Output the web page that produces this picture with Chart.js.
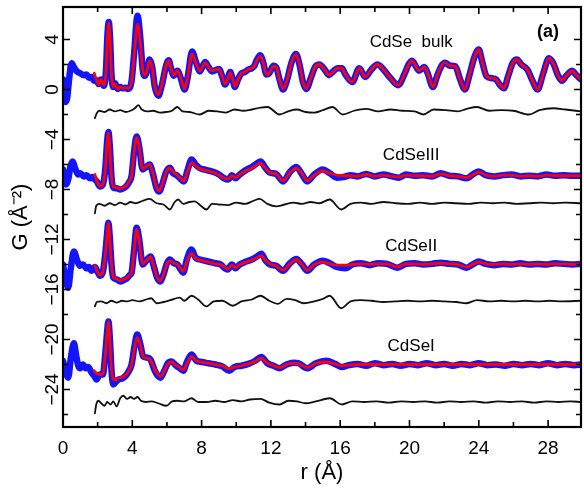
<!DOCTYPE html>
<html><head><meta charset="utf-8">
<script src="https://cdn.jsdelivr.net/npm/chart.js@4.4.0/dist/chart.umd.min.js"></script>
<style>html,body{margin:0;padding:0;background:#fff;}canvas{display:block;}</style>
</head><body>
<canvas id="c" width="584" height="488" style="width:584px;height:488px"></canvas>
<script>
// ---------- axis ticks ----------
const xTicks = [0, 4, 8, 12, 16, 20, 24, 28];
const xMinorTicks = [2, 6, 10, 14, 18, 22, 26];
const yTicks = [4, 0, -4, -8, -12, -16, -20, -24];
const yMinorTicks = [2, -2, -6, -10, -14, -18, -22, -26];
const xMin = 0, xMax = 29.9, yMin = -27, yMax = 6.6;

// ---------- CdSe bulk ----------
const bulkR = [0.0,0.08,0.15,0.25,0.35,0.5,0.62,0.8,1.0,1.2,
1.35,1.5,1.65,1.8,1.95,2.05,2.2,2.35,2.48,2.56,
2.64,2.72,2.8,2.9,3.0,3.15,3.3,3.45,3.6,3.75,
3.95,4.1,4.3,4.45,4.6,4.72,4.85,5.0,5.15,5.3,
5.5,5.7,5.95,6.1,6.25,6.4,6.6,6.8,7.02,7.2,
7.45,7.65,7.9,8.2,8.4,8.6,9.0,9.2,9.35,9.5,
9.65,9.78,9.92,10.1,10.3,10.5,10.7,10.9,11.05,11.2,
11.38,11.55,11.75,11.9,12.15,12.3,12.5,12.7,12.9,13.2,
13.45,13.65,13.85,14.05,14.3,14.55,14.8,15.1,15.35,15.6,
15.85,16.1,16.3,16.7,17.1,17.45,17.8,18.15,18.5,18.85,
19.35,19.7,19.95,20.15,20.55,20.85,21.05,21.35,21.6,21.85,
22.05,22.35,22.65,22.9,23.2,23.45,23.75,24.0,24.2,24.45,
24.75,25.0,25.2,25.45,25.7,25.95,26.2,26.45,26.8,27.1,
27.4,27.7,28.05,28.3,28.55,28.8,29.05,29.4,29.6,29.9];
const bulkData = [0.8,-0.3,-1.0,-0.6,0.8,2.1,1.8,1.45,1.3,1.15,
1.2,0.95,1.0,0.7,0.75,0.45,0.8,0.3,1.5,4.2,
5.4,4.0,1.2,0.2,0.5,0.05,0.2,0.1,0.15,0.05,
0.6,2.8,5.9,4.3,1.6,1.1,1.5,2.4,1.8,0.2,
-0.5,0.3,1.9,2.35,1.6,1.1,1.5,0.9,0.0,1.0,
3.05,2.3,1.45,2.2,1.8,1.45,1.65,1.0,0.4,0.8,
1.4,0.9,0.2,0.8,1.3,1.4,1.6,1.7,1.9,2.4,
2.75,2.2,1.2,1.3,1.9,1.8,0.8,0.0,0.6,2.2,
2.85,2.0,0.6,0.05,0.9,1.8,2.0,1.6,1.15,1.45,
1.7,1.7,1.2,0.6,1.7,1.0,1.6,2.0,1.6,1.0,
0.35,1.2,2.0,2.3,1.5,1.8,1.3,0.2,1.1,1.9,
2.15,1.9,1.85,0.9,0.0,1.1,2.6,3.2,2.2,1.05,
0.9,0.8,0.4,0.1,1.1,2.1,2.4,2.0,1.6,0.7,
0.0,1.2,2.5,2.1,1.2,0.7,1.1,1.5,1.2,0.8];
const bulkFit = [null,null,null,null,null,null,null,null,null,null,
null,null,null,1.3,0.7,0.4,0.8,0.35,1.4,4.0,
5.3,3.9,1.1,0.2,0.45,0.05,0.2,0.1,0.15,0.1,
0.6,2.6,5.2,3.9,1.6,1.15,1.5,2.3,1.75,0.25,
-0.4,0.35,1.9,2.3,1.6,1.15,1.5,0.9,0.05,1.0,
2.85,2.2,1.5,2.15,1.8,1.5,1.65,1.0,0.45,0.8,
1.35,0.9,0.25,0.8,1.3,1.4,1.6,1.7,1.9,2.35,
2.65,2.2,1.2,1.3,1.85,1.8,0.8,0.05,0.6,2.2,
2.8,2.0,0.6,0.1,0.9,1.8,2.0,1.6,1.15,1.45,
1.7,1.7,1.2,0.6,1.7,1.0,1.6,2.0,1.6,1.0,
0.35,1.2,2.0,2.3,1.5,1.8,1.3,0.2,1.1,1.9,
2.15,1.9,1.85,0.9,0.0,1.1,2.6,3.2,2.2,1.05,
0.9,0.8,0.4,0.1,1.1,2.1,2.4,2.0,1.6,0.7,
0.0,1.2,2.5,2.1,1.2,0.7,1.1,1.5,1.2,0.8];
const bulkDiffR = [1.84,1.95,2.1,2.4,2.7,3.0,3.3,3.6,3.9,4.15,
4.35,4.55,4.85,5.2,5.6,5.95,6.3,6.6,6.9,7.3,
7.9,8.4,8.9,9.4,9.9,10.4,10.9,11.4,11.8,12.5,
13.0,13.5,14.0,14.5,15.0,15.55,16.15,16.8,17.5,18.2,
18.9,19.6,20.3,20.8,21.4,22.1,22.8,23.3,23.9,24.6,
25.3,26.0,26.9,27.5,28.3,29.0,29.9];
const bulkDiffG = [-2.3,-1.9,-1.7,-1.8,-1.6,-1.75,-1.65,-1.8,-1.7,-1.5,
-1.25,-1.6,-1.75,-1.7,-1.85,-1.8,-1.7,-1.4,-1.75,-1.8,
-2.0,-1.7,-1.75,-1.85,-1.6,-1.7,-1.6,-1.45,-1.4,-2.0,
-1.75,-1.6,-1.8,-1.85,-1.65,-1.4,-2.0,-1.7,-1.55,-1.75,
-1.6,-1.7,-1.75,-2.0,-1.6,-1.65,-1.75,-1.55,-1.4,-1.7,
-1.65,-1.7,-2.0,-1.65,-1.5,-1.6,-1.75];

// ---------- CdSeIII ----------
const s3R = [0.0,0.08,0.17,0.3,0.42,0.56,0.7,0.88,1.0,1.2,
1.35,1.56,1.7,1.84,1.95,2.13,2.3,2.45,2.54,2.62,
2.7,2.8,2.9,3.1,3.3,3.5,3.65,3.82,3.96,4.1,
4.25,4.4,4.6,4.8,5.0,5.2,5.4,5.55,5.75,5.95,
6.17,6.35,6.55,6.75,6.97,7.2,7.42,7.65,7.9,8.18,
8.45,8.7,9.0,9.3,9.53,9.75,9.95,10.2,10.55,10.9,
11.15,11.41,11.65,11.93,12.3,12.7,13.1,13.47,13.8,14.1,
14.5,15.0,15.4,15.8,16.2,16.6,17.0,17.5,18.0,18.5,
19.0,19.4,19.8,20.3,20.8,21.3,21.8,22.3,22.8,23.3,
23.7,24.0,24.4,24.9,25.4,25.9,26.4,26.9,27.4,27.9,
28.4,28.9,29.4,29.9];
const s3Data = [-6.4,-7.2,-7.6,-7.2,-6.2,-5.75,-6.3,-6.8,-6.7,-6.95,
-6.85,-7.1,-7.0,-7.2,-7.35,-7.75,-7.6,-6.2,-4.3,-3.4,
-4.5,-7.0,-7.85,-7.9,-8.0,-7.9,-7.75,-7.4,-6.9,-5.0,
-3.75,-4.6,-6.4,-6.2,-6.0,-6.8,-7.9,-8.15,-7.5,-6.6,
-6.25,-6.7,-6.85,-7.1,-7.35,-6.4,-5.6,-6.0,-6.3,-6.4,
-6.5,-6.6,-6.8,-7.1,-7.2,-6.85,-7.1,-6.8,-6.45,-6.2,
-5.95,-5.75,-6.2,-6.65,-6.75,-7.35,-6.6,-6.2,-6.8,-7.35,
-6.8,-6.4,-6.7,-7.05,-7.0,-6.85,-6.95,-6.75,-6.95,-6.8,
-6.95,-7.05,-6.8,-6.9,-6.85,-6.95,-6.7,-6.9,-6.95,-7.1,
-6.75,-6.55,-6.85,-6.95,-6.85,-6.8,-6.95,-6.9,-6.95,-6.8,
-6.9,-6.85,-6.9,-6.9];
const s3Fit = [null,null,null,null,null,null,null,null,null,null,
null,null,null,-6.8,-7.3,-7.75,-7.6,-6.3,-4.4,-3.5,
-4.6,-7.0,-7.8,-7.85,-7.95,-7.85,-7.7,-7.35,-6.9,-5.1,
-3.85,-4.6,-6.35,-6.15,-6.0,-6.75,-7.85,-8.1,-7.5,-6.6,
-6.3,-6.6,-6.8,-7.05,-7.3,-6.5,-5.85,-6.1,-6.35,-6.45,
-6.55,-6.65,-6.85,-7.1,-7.15,-6.9,-7.05,-6.8,-6.5,-6.3,
-6.05,-5.9,-6.25,-6.65,-6.75,-7.3,-6.65,-6.3,-6.75,-7.3,
-6.85,-6.5,-6.7,-6.85,-6.9,-6.9,-6.95,-6.8,-6.95,-6.85,
-6.95,-7.0,-6.85,-6.9,-6.9,-6.95,-6.75,-6.9,-6.95,-7.05,
-6.8,-6.6,-6.85,-6.95,-6.85,-6.85,-6.95,-6.9,-6.95,-6.85,
-6.9,-6.9,-6.9,-6.9];
const s3DiffR = [1.84,1.92,2.1,2.4,2.7,3.0,3.3,3.6,3.9,4.2,
4.6,5.0,5.4,5.8,6.17,6.45,6.65,6.95,7.3,7.6,
7.95,8.28,8.6,9.0,9.5,10.0,10.5,11.0,11.35,11.8,
12.3,12.8,13.3,13.8,14.3,14.8,15.39,16.06,16.6,17.2,
17.8,18.5,19.2,19.9,20.6,21.3,22.0,22.7,23.4,24.1,
24.8,25.5,26.2,26.9,27.6,28.3,29.0,29.9];
const s3DiffG = [-9.9,-9.3,-9.15,-9.3,-9.1,-9.25,-9.05,-9.2,-9.0,-9.1,
-8.9,-8.75,-9.1,-9.2,-9.6,-9.0,-8.8,-9.15,-9.0,-8.95,
-9.3,-9.6,-9.15,-9.2,-9.25,-9.05,-9.15,-8.9,-8.75,-9.15,
-9.35,-9.2,-9.05,-9.15,-9.0,-9.1,-8.8,-9.6,-9.15,-9.05,
-9.15,-9.0,-9.1,-9.15,-9.05,-9.15,-9.05,-9.1,-9.15,-9.05,
-9.1,-9.05,-9.15,-9.1,-9.05,-9.1,-9.05,-9.1];

// ---------- CdSeII ----------
const s2R = [0.0,0.1,0.3,0.45,0.63,0.8,0.98,1.15,1.35,1.5,
1.65,1.84,2.0,2.13,2.3,2.45,2.54,2.62,2.7,2.8,
2.9,3.1,3.3,3.5,3.7,3.85,3.96,4.1,4.25,4.4,
4.6,4.8,5.05,5.25,5.45,5.6,5.8,6.0,6.17,6.4,
6.6,6.75,6.94,7.15,7.42,7.65,7.9,8.2,8.5,8.8,
9.1,9.3,9.5,9.75,9.95,10.2,10.5,10.9,11.15,11.45,
11.7,11.95,12.3,12.7,13.1,13.47,13.8,14.1,14.5,15.0,
15.4,15.8,16.3,16.7,17.2,17.7,18.2,18.7,19.3,19.8,
20.3,20.8,21.3,21.8,22.3,22.8,23.3,23.7,24.0,24.4,
24.9,25.4,25.9,26.4,26.9,27.4,27.9,28.4,28.9,29.4,
29.9];
const s2Data = [-14.0,-14.8,-15.85,-14.3,-12.95,-13.6,-14.1,-14.0,-14.3,-14.2,
-14.5,-14.2,-14.6,-14.9,-14.6,-13.0,-11.6,-10.65,-11.8,-14.0,
-15.05,-15.2,-15.35,-15.25,-15.1,-14.85,-14.65,-12.9,-11.05,-12.0,
-14.0,-13.7,-13.35,-14.2,-15.1,-15.35,-14.8,-13.9,-13.6,-13.9,
-14.0,-14.3,-14.65,-13.6,-12.8,-13.45,-13.6,-13.7,-13.8,-13.9,
-14.0,-14.25,-14.4,-14.0,-14.3,-14.0,-13.8,-13.6,-13.4,-13.15,
-13.7,-14.0,-14.1,-14.5,-13.9,-13.55,-14.0,-14.5,-14.0,-13.7,
-13.9,-14.2,-14.3,-14.0,-13.9,-14.05,-13.9,-13.95,-14.25,-13.95,
-13.9,-14.0,-13.95,-13.85,-13.95,-14.0,-14.25,-13.95,-13.75,-13.95,
-14.05,-13.95,-14.0,-13.9,-14.0,-13.95,-14.0,-13.9,-13.95,-14.0,
-13.95];
const s2Fit = [null,null,null,null,null,null,null,null,null,null,
null,-14.1,-14.6,-14.85,-14.6,-13.1,-11.7,-10.7,-11.9,-14.0,
-15.0,-15.15,-15.3,-15.2,-15.05,-14.85,-14.65,-13.0,-11.2,-12.1,
-13.95,-13.7,-13.4,-14.2,-15.05,-15.3,-14.8,-13.95,-13.7,-13.9,
-14.0,-14.25,-14.55,-13.75,-13.1,-13.5,-13.65,-13.75,-13.85,-13.95,
-14.0,-14.2,-14.35,-14.05,-14.25,-14.0,-13.85,-13.65,-13.5,-13.3,
-13.7,-13.95,-14.1,-14.45,-13.95,-13.6,-14.0,-14.45,-14.0,-13.8,
-13.95,-14.05,-14.05,-14.0,-13.95,-14.0,-13.95,-13.95,-14.2,-13.95,
-13.95,-14.0,-13.95,-13.9,-13.95,-14.0,-14.2,-13.95,-13.8,-13.95,
-14.0,-13.95,-14.0,-13.95,-14.0,-13.95,-14.0,-13.95,-13.95,-14.0,
-13.95];
const s2DiffR = [1.84,1.95,2.2,2.5,2.8,3.1,3.4,3.7,4.0,4.4,
4.8,5.1,5.4,5.8,6.2,6.74,7.0,7.42,7.8,8.28,
8.7,9.2,9.8,10.3,10.9,11.4,11.9,12.4,12.9,13.4,
13.9,14.5,15.0,15.39,16.06,16.6,17.2,17.8,18.5,19.2,
19.9,20.6,21.3,22.0,22.7,23.3,23.9,24.6,25.3,26.0,
26.7,27.4,28.1,28.8,29.9];
const s2DiffG = [-17.35,-17.0,-16.95,-17.1,-16.9,-17.05,-16.9,-16.95,-16.85,-16.95,
-16.8,-16.7,-17.1,-17.0,-16.85,-16.65,-16.9,-16.5,-16.8,-17.35,
-16.95,-16.9,-17.3,-16.95,-16.8,-16.5,-16.9,-17.15,-16.75,-16.85,
-17.1,-16.95,-16.75,-16.5,-17.5,-16.95,-16.85,-16.9,-17.0,-16.95,
-16.9,-16.95,-16.9,-16.95,-17.0,-17.1,-16.85,-16.95,-16.9,-16.95,
-16.9,-16.95,-16.9,-16.95,-16.9];

// ---------- CdSeI ----------
const s1R = [0.0,0.12,0.3,0.45,0.63,0.75,0.88,1.0,1.15,1.3,
1.45,1.65,1.8,1.94,2.13,2.3,2.45,2.54,2.62,2.7,
2.8,2.9,3.05,3.2,3.45,3.65,3.85,3.96,4.12,4.28,
4.45,4.63,4.85,5.05,5.3,5.5,5.63,5.85,6.05,6.26,
6.5,6.75,6.94,7.15,7.42,7.7,8.0,8.4,8.8,9.2,
9.6,9.9,10.3,10.7,11.1,11.45,11.8,12.15,12.5,12.9,
13.3,13.6,14.1,14.6,15.2,15.7,16.1,16.5,17.0,17.5,
18.0,18.5,19.0,19.5,20.0,20.5,21.0,21.5,22.0,22.5,
23.0,23.5,24.0,24.5,25.0,25.5,26.0,26.5,27.0,27.5,
28.0,28.5,29.0,29.5,29.9];
const s1Data = [-21.7,-22.4,-23.05,-21.5,-20.3,-21.2,-22.1,-22.3,-22.0,-22.3,
-22.2,-22.65,-22.9,-23.2,-22.8,-22.8,-21.0,-19.5,-18.55,-19.8,
-22.5,-23.6,-23.4,-23.2,-23.1,-22.85,-22.4,-22.0,-20.6,-19.6,
-20.3,-21.35,-21.45,-21.6,-22.5,-22.95,-23.05,-22.5,-21.9,-21.75,
-22.05,-22.3,-22.5,-21.8,-21.2,-21.7,-21.8,-21.9,-22.0,-22.15,
-22.5,-22.2,-22.1,-21.95,-21.7,-21.4,-21.9,-22.1,-22.3,-22.0,
-21.85,-21.9,-22.3,-21.9,-21.7,-21.95,-22.2,-22.05,-21.95,-22.1,
-21.9,-22.05,-21.95,-22.1,-21.95,-22.05,-21.9,-22.05,-21.95,-22.1,
-21.95,-22.05,-21.9,-22.05,-22.0,-22.1,-21.95,-22.05,-21.95,-22.05,
-21.9,-22.05,-21.95,-22.05,-22.0];
const s1Fit = [null,null,null,null,null,null,null,null,null,null,
null,null,-22.5,-22.7,-22.8,-22.75,-21.1,-19.6,-18.6,-19.9,
-22.4,-23.2,-23.2,-23.1,-23.0,-22.8,-22.4,-22.0,-20.8,-19.85,
-20.4,-21.35,-21.5,-21.65,-22.4,-22.85,-22.95,-22.5,-21.95,-21.8,
-22.05,-22.25,-22.45,-21.9,-21.35,-21.7,-21.8,-21.9,-22.0,-22.1,
-22.35,-22.2,-22.1,-21.95,-21.75,-21.5,-21.9,-22.1,-22.25,-22.0,
-21.9,-21.95,-22.25,-21.9,-21.8,-21.95,-22.1,-22.05,-22.0,-22.0,
-22.0,-22.0,-22.0,-22.0,-22.0,-22.0,-22.0,-22.0,-22.0,-22.0,
-22.0,-22.0,-22.0,-22.0,-22.0,-22.0,-22.0,-22.0,-22.0,-22.0,
-22.0,-22.0,-22.0,-22.0,-22.0];
const s1DiffR = [1.84,1.92,2.05,2.2,2.4,2.55,2.75,2.9,3.1,3.3,
3.48,3.7,3.9,4.1,4.3,4.5,4.8,5.1,5.5,5.97,
6.3,6.6,7.0,7.42,7.8,8.3,8.8,9.3,9.8,10.3,
10.8,11.4,11.9,12.5,13.0,13.5,14.0,14.6,15.4,16.1,
16.7,17.4,18.1,18.8,19.5,20.2,20.9,21.6,22.3,23.0,
23.7,24.4,25.1,25.8,26.5,27.2,27.9,28.6,29.3,29.9];
const s1DiffG = [-25.9,-25.2,-24.9,-25.1,-25.3,-25.0,-25.2,-24.95,-25.35,-24.7,
-24.5,-24.75,-24.6,-24.75,-24.6,-24.9,-25.0,-24.95,-25.1,-25.3,
-24.95,-24.9,-24.95,-24.7,-25.0,-25.0,-24.9,-25.0,-24.85,-24.95,
-24.8,-24.75,-25.05,-25.2,-24.9,-24.95,-25.1,-24.95,-24.7,-25.2,
-24.95,-25.0,-24.95,-25.05,-24.95,-25.0,-24.95,-25.05,-24.95,-25.0,
-24.95,-25.05,-24.95,-25.0,-24.95,-25.05,-24.95,-25.0,-24.95,-25.0];

// ---------- annotations ----------
const sampleNames = ['CdSe  bulk', 'CdSeIII', 'CdSeII', 'CdSeI'];
const nameR = [20.1, 20.1, 20.1, 20.1];
const nameG = [3.76, -5.28, -12.56, -20.52];
const panelTag = '(a)', panelTagR = 28.0, panelTagG = 4.56;

const FONT = "'Liberation Sans', Arial, Helvetica, sans-serif";
const pts = (R, G) => R.map((r, i) => ({x: r, y: G[i]}));
const fmt = v => (v < 0 ? '\u2212' + Math.abs(v) : String(v));

const groups = [
  [bulkR, bulkData, bulkFit, bulkDiffR, bulkDiffG],
  [s3R, s3Data, s3Fit, s3DiffR, s3DiffG],
  [s2R, s2Data, s2Fit, s2DiffR, s2DiffG],
  [s1R, s1Data, s1Fit, s1DiffR, s1DiffG]
];
const datasets = [];
groups.forEach(([R, D, F, dR, dG]) => {
  datasets.push({data: pts(R, D), borderColor: '#1414ff', borderWidth: 6.5, order: 3, cubicInterpolationMode: 'monotone'});
  datasets.push({data: pts(R, F), borderColor: '#ff0000', borderWidth: 2.8, order: 2, cubicInterpolationMode: 'monotone'});
  datasets.push({data: pts(dR, dG), borderColor: '#111111', borderWidth: 1.8, order: 1, cubicInterpolationMode: 'monotone'});
});

const framePlugin = {
  id: 'frame',
  afterDraw(chart) {
    const {ctx, chartArea: a, scales: {x, y}} = chart;
    ctx.save();
    ctx.strokeStyle = '#000';
    ctx.lineWidth = 1.6;
    ctx.beginPath();
    const tick = (vals, len, isX) => {
      vals.forEach(v => {
        if (isX) {
          const px = x.getPixelForValue(v);
          ctx.moveTo(px, a.bottom); ctx.lineTo(px, a.bottom - len);
          ctx.moveTo(px, a.top); ctx.lineTo(px, a.top + len);
        } else {
          const py = y.getPixelForValue(v);
          ctx.moveTo(a.left, py); ctx.lineTo(a.left + len, py);
          ctx.moveTo(a.right, py); ctx.lineTo(a.right - len, py);
        }
      });
    };
    tick(xTicks, 7, true); tick(xMinorTicks, 5, true);
    tick(yTicks, 7, false); tick(yMinorTicks, 5, false);
    ctx.stroke();
    ctx.lineWidth = 2.2;
    ctx.strokeRect(a.left, a.top, a.right - a.left, a.bottom - a.top);
    ctx.fillStyle = '#000';
    ctx.font = '17px ' + FONT;
    ctx.textAlign = 'center';
    ctx.textBaseline = 'middle';
    sampleNames.forEach((n, i) => ctx.fillText(n, x.getPixelForValue(nameR[i]), y.getPixelForValue(nameG[i])));
    ctx.font = 'bold 18px ' + FONT;
    ctx.fillText(panelTag, x.getPixelForValue(panelTagR), y.getPixelForValue(panelTagG));
    ctx.restore();
  }
};

new Chart(document.getElementById('c'), {
  type: 'line',
  data: {datasets},
  options: {
    responsive: false, animation: false, devicePixelRatio: 1,
    layout: {padding: {top: 7, right: 3, left: 0, bottom: 0}},
    elements: {point: {radius: 0}, line: {borderJoinStyle: 'round', borderCapStyle: 'round'}},
    plugins: {legend: {display: false}, tooltip: {enabled: false}},
    scales: {
      x: {
        type: 'linear', min: xMin, max: xMax,
        grid: {display: false}, border: {display: false},
        afterBuildTicks: s => { s.ticks = xTicks.map(v => ({value: v})); },
        ticks: {autoSkip: false, maxRotation: 0, padding: 2, color: '#000', font: {family: FONT, size: 19}, callback: v => fmt(v)},
        title: {display: true, text: 'r (Å)', color: '#000', font: {family: FONT, size: 22, lineHeight: 1.2}, padding: {top: 0, bottom: 2}},
        afterFit: s => { s.height = 61; }
      },
      y: {
        type: 'linear', min: yMin, max: yMax,
        grid: {display: false}, border: {display: false},
        afterBuildTicks: s => { s.ticks = yTicks.map(v => ({value: v})); },
        ticks: {autoSkip: false, minRotation: 90, maxRotation: 90, crossAlign: 'center', padding: -13.5, color: '#000', font: {family: FONT, size: 19}, callback: v => fmt(v)},
        title: {display: true, text: 'G (Å\u207B\u00B2)', color: '#000', font: {family: FONT, size: 22, lineHeight: 1.2}, padding: {top: 8, bottom: 0}},
        afterFit: s => { s.width = 63; }
      }
    }
  },
  plugins: [framePlugin]
});
</script>
</body></html>
